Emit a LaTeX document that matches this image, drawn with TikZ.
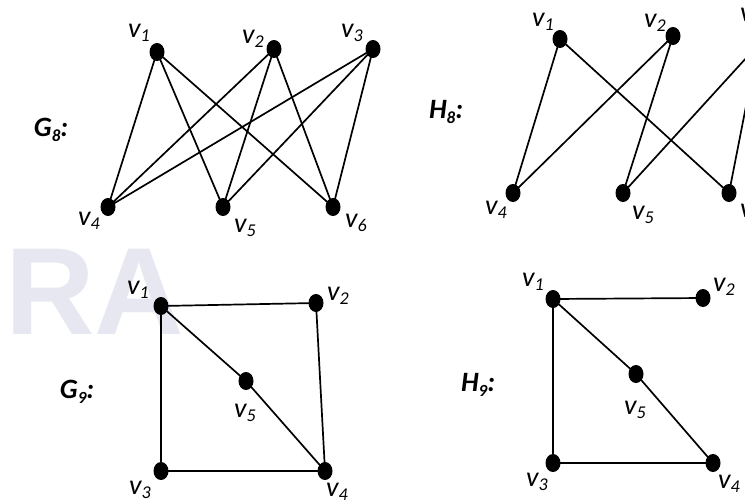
\documentclass[tikz,border=0pt]{standalone}
\usepackage{fontspec}
\setmainfont{Carlito}
\newfontfamily\wmfont{Liberation Sans}
\usetikzlibrary{shapes.geometric}
\definecolor{wmgray}{RGB}{230,231,241}
\newcommand{\vlab}[1]{{\fontsize{28}{28}\selectfont\itshape v\raisebox{-4.5pt}{\fontsize{18}{18}\selectfont #1}}}
\newcommand{\glab}[2]{{\fontsize{28}{28}\selectfont\bfseries\itshape #1\raisebox{-4.5pt}{\fontsize{17}{17}\selectfont #2}:}}
\tikzset{
  dot/.style={ellipse, fill=black, inner sep=0pt, minimum width=15pt, minimum height=18pt},
  lbl/.style={inner sep=0pt, anchor=center},
  edge/.style={line width=1.7pt, black},
}
\begin{document}
\begin{tikzpicture}[x=1pt, y=-1pt]
\clip (0,0) rectangle (745,499);
\fill[white] (0,0) rectangle (745,499);
% faint watermark
\node[lbl, text=wmgray] (wm) at (95,292) {\wmfont\fontsize{124}{124}\selectfont\bfseries RA};

% ---------- G8 ----------
\node[lbl] (g8) at (51,130) {\glab{G}{8}};
\node[dot] (a1) at (157,52) {};
\node[dot] (a2) at (274,49) {};
\node[dot] (a3) at (373,49) {};
\node[dot] (a4) at (108,207) {};
\node[dot] (a5) at (223,207) {};
\node[dot] (a6) at (333,207) {};
\node[lbl] (la1) at (139,33) {\vlab{1}};
\node[lbl] (la2) at (253,39) {\vlab{2}};
\node[lbl] (la3) at (352,33) {\vlab{3}};
\node[lbl] (la4) at (89,221) {\vlab{4}};
\node[lbl] (la5) at (245,228) {\vlab{5}};
\node[lbl] (la6) at (356,223) {\vlab{6}};
\foreach \u in {a1,a2,a3}
  \foreach \w in {a4,a5,a6}
    \draw[edge] (\u.center) -- (\w.center);

% ---------- H8 ----------
\node[lbl] (h8) at (446,112) {\glab{H}{8}};
\node[dot] (b1) at (560,39) {};
\node[dot] (b2) at (673,36) {};
\node[dot] (b3) at (758,45) {};
\node[dot] (b4) at (513,193) {};
\node[dot] (b5) at (623,193) {};
\node[dot] (b6) at (729,193) {};
\node[lbl] (lb1) at (543,22) {\vlab{1}};
\node[lbl] (lb2) at (655,23) {\vlab{2}};
\node[lbl, anchor=west] (lb3) at (740,17) {\vlab{3}};
\node[lbl, anchor=west] (lb6) at (740,213) {\vlab{6}};
\node[lbl] (lb4) at (496,210) {\vlab{4}};
\node[lbl] (lb5) at (643,215) {\vlab{5}};
\draw[edge] (b1.center) -- (b4.center);
\draw[edge] (b1.center) -- (b6.center);
\draw[edge] (b2.center) -- (b4.center);
\draw[edge] (b2.center) -- (b5.center);
\draw[edge] (b3.center) -- (b5.center);
\draw[edge] (b3.center) -- (b6.center);

% ---------- G9 ----------
\node[lbl] (g9) at (77,392) {\glab{G}{9}};
\node[dot] (c1) at (161,306) {};
\node[dot] (c2) at (316,303) {};
\node[dot] (c3) at (161,471) {};
\node[dot] (c4) at (325,471) {};
\node[dot] (c5) at (246,381) {};
\node[lbl] (lc1) at (138,290) {\vlab{1}};
\node[lbl] (lc2) at (338,296) {\vlab{2}};
\node[lbl] (lc3) at (140,490) {\vlab{3}};
\node[lbl] (lc4) at (337,492) {\vlab{4}};
\node[lbl] (lc5) at (245,413) {\vlab{5}};
\draw[edge] (c1.center) -- (c2.center);
\draw[edge] (c1.center) -- (c3.center);
\draw[edge] (c2.center) -- (c4.center);
\draw[edge] (c3.center) -- (c4.center);
\draw[edge] (c1.center) -- (c5.center);
\draw[edge] (c5.center) -- (c4.center);

% ---------- H9 ----------
\node[lbl] (h9) at (478,385) {\glab{H}{9}};
\node[dot] (d1) at (553,299) {};
\node[dot] (d2) at (703,298) {};
\node[dot] (d3) at (553,463) {};
\node[dot] (d4) at (713,463) {};
\node[dot] (d5) at (636,374) {};
\node[lbl] (ld1) at (533,282) {\vlab{1}};
\node[lbl] (ld2) at (724,287) {\vlab{2}};
\node[lbl] (ld3) at (537,482) {\vlab{3}};
\node[lbl] (ld4) at (729,484) {\vlab{4}};
\node[lbl] (ld5) at (635,410) {\vlab{5}};
\draw[edge] (d1.center) -- (d2.center);
\draw[edge] (d1.center) -- (d3.center);
\draw[edge] (d1.center) -- (d5.center);
\draw[edge] (d5.center) -- (d4.center);
\draw[edge] (d3.center) -- (d4.center);
\end{tikzpicture}
\end{document}
